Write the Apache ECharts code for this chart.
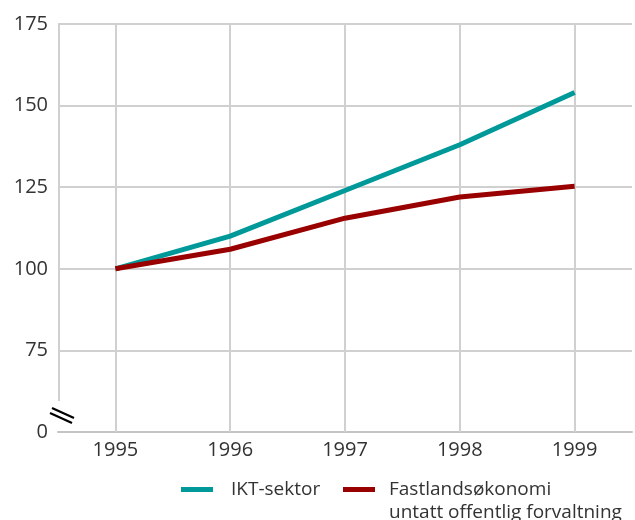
<!DOCTYPE html>
<html>
<head>
<meta charset="utf-8">
<script src="https://cdn.jsdelivr.net/npm/echarts@6/dist/echarts.min.js"></script>
<style>
html,body{margin:0;padding:0;background:#fff;}
#c{width:635px;height:520px;}
</style>
</head>
<body>
<div id="c"></div>
<script>
var years = ['1995', '1996', '1997', '1998', '1999'];
var iktSektor = [100, 110, 124, 138, 154];
var fastland = [100, 106, 115.5, 122, 125.3];
var seriesNames = ['IKT-sektor', 'Fastlandsøkonomi\nuntatt offentlig forvaltning'];
var yTicks = [50, 75, 100, 125, 150, 175];
var yTickLabels = ['0', '75', '100', '125', '150', '175'];

var FONT = '"Open Sans", sans-serif';
var TEXT = '#333333';
var GRID = '#d0d0d0';
var TEAL = '#009999';
var RED = '#990000';

var chart = echarts.init(document.getElementById('c'), null, {renderer: 'canvas'});
var option = {
  animation: false,
  backgroundColor: '#ffffff',
  grid: {left: 58, right: 3, top: 24, bottom: 88, containLabel: false},
  xAxis: {
    type: 'category',
    data: years,
    boundaryGap: true,
    axisLine: {show: true, lineStyle: {color: '#c4c4c4', width: 2}},
    axisTick: {show: false},
    splitLine: {show: false},
    axisLabel: {color: TEXT, fontFamily: FONT, fontSize: 20, margin: 8}
  },
  yAxis: {
    type: 'value',
    min: yTicks[0],
    max: yTicks[yTicks.length - 1],
    interval: 25,
    axisLine: {show: false},
    axisTick: {show: false},
    splitLine: {show: true, lineStyle: {color: GRID, width: 2}},
    axisLabel: {
      color: TEXT, fontFamily: FONT, fontSize: 20, margin: 10,
      formatter: function (v) { var i = yTicks.indexOf(v); return i >= 0 ? yTickLabels[i] : ''; }
    }
  },
  legend: [
    {
      data: [seriesNames[0]],
      left: 181, top: 478, padding: 0,
      icon: 'rect', itemWidth: 32, itemHeight: 5,
      textStyle: {color: TEXT, fontFamily: FONT, fontSize: 19, lineHeight: 23, padding: [0, 0, 0, 13]}
    },
    {
      data: [seriesNames[1]],
      left: 343, top: 455, padding: 0,
      icon: 'rect', itemWidth: 32, itemHeight: 5,
      formatter: function (n) { return '\n' + n; },
      textStyle: {color: TEXT, fontFamily: FONT, fontSize: 19, lineHeight: 23, padding: [0, 0, 0, 9]}
    }
  ],
  series: [
    {
      name: seriesNames[0], type: 'line', data: iktSektor,
      symbol: 'none', z: 3,
      lineStyle: {color: TEAL, width: 5}, itemStyle: {color: TEAL},
      markLine: {
        silent: true, symbol: 'none', z: 1,
        label: {show: false},
        lineStyle: {color: GRID, width: 2, type: 'solid'},
        data: years.map(function (y) { return {xAxis: y}; })
      }
    },
    {
      name: seriesNames[1], type: 'line', data: fastland,
      symbol: 'none', z: 3,
      lineStyle: {color: RED, width: 5}, itemStyle: {color: RED}
    }
  ]
};
chart.setOption(option);

// axis decorations: left axis line ending at a break symbol
var pTop = chart.convertToPixel({yAxisIndex: 0}, 175);
var pBottom = chart.convertToPixel({yAxisIndex: 0}, 50);
var gl = 58;
chart.setOption({
  graphic: [
    {type: 'line', silent: true, z: 2, shape: {x1: gl + 1, y1: pTop - 1, x2: gl + 1, y2: pBottom - 31}, style: {stroke: GRID, lineWidth: 2}},
    {type: 'line', silent: true, z: 4, shape: {x1: gl - 6, y1: pBottom - 24, x2: gl + 16, y2: pBottom - 14}, style: {stroke: '#000', lineWidth: 2.2}},
    {type: 'line', silent: true, z: 4, shape: {x1: gl - 8, y1: pBottom - 19, x2: gl + 14, y2: pBottom - 9}, style: {stroke: '#000', lineWidth: 2.2}}
  ]
});
</script>
</body>
</html>
